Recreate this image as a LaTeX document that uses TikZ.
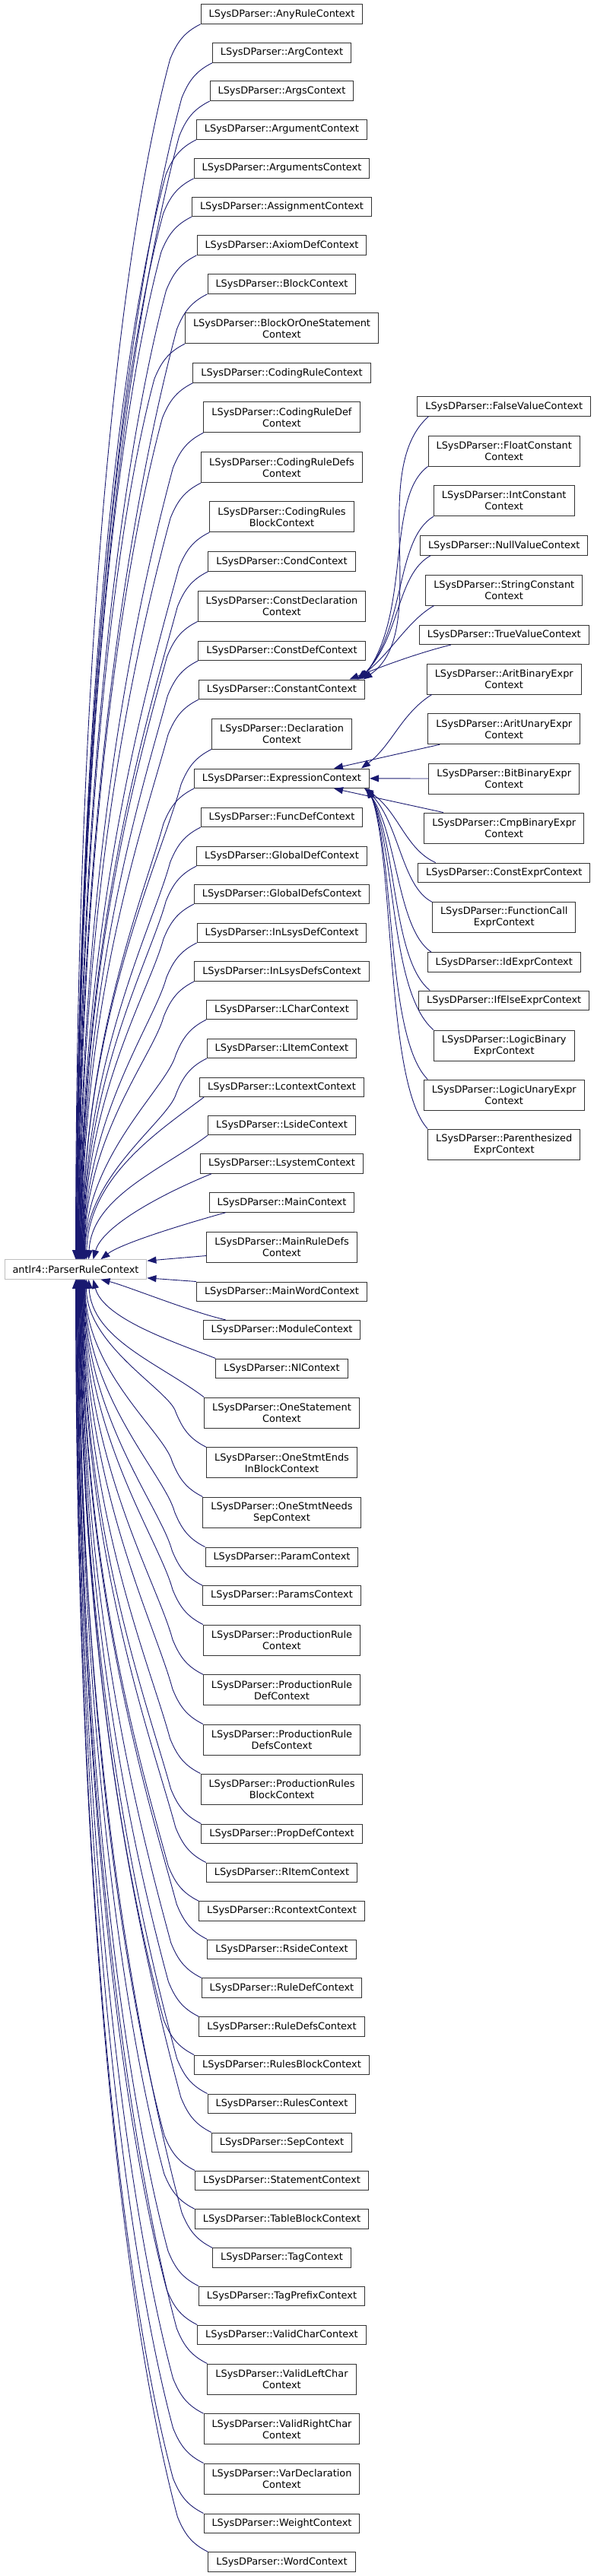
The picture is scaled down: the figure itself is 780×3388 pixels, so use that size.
\documentclass[tikz,border=0pt]{standalone}
\usepackage{fontspec}
\setmainfont{DejaVu Sans}
\usetikzlibrary{arrows.meta}
\definecolor{mblue}{RGB}{25,25,112}
\definecolor{basegray}{RGB}{191,191,191}
\newcommand\lp{LSysDParser::}
\tikzset{
 cls/.style={draw=black!80, line width=1pt, fill=white, font=\fontsize{12.9pt}{15pt}\selectfont, inner xsep=10.5pt, inner ysep=0pt, minimum height=25.6pt, align=center},
 cls2/.style={cls, minimum height=40pt},
 basecls/.style={cls, draw=basegray},
 inh/.style={draw=mblue, line width=0.9pt, -{Triangle[length=12pt,width=9pt]}},
}
% edge from a node above the base, into the base's top
\newcommand\upE[3]{\draw[inh] (#1.south west) .. controls +(-22,11) and +(9,-22) .. ++(-40,46) .. controls +({-0.086*#3},{0.32*#3}) and +(0,{-#3}) .. ([xshift=#2pt]base.north west);}
% edge from a node below the base, into the base's bottom
\newcommand\dnE[3]{\draw[inh] (#1.north west) .. controls +(-22,-11) and +(9,22) .. ++(-40,-46) .. controls +({-0.086*#3},{-0.32*#3}) and +(0,{#3}) .. ([xshift=#2pt]base.south west);}
\begin{document}
\begin{tikzpicture}[x=1pt,y=-1pt]
\useasboundingbox (0,0) rectangle (780,3388);
% base
\node[basecls] (base) at (99.5,1669.5) {antlr4::ParserRuleContext};
% middle column
\node[cls] (n1) at (370.5,18.5) {\lp AnyRuleContext};
\node[cls] (n2) at (370.5,69.5) {\lp ArgContext};
\node[cls] (n3) at (370.5,119.8) {\lp ArgsContext};
\node[cls] (n4) at (370.5,170.5) {\lp ArgumentContext};
\node[cls] (n5) at (370.5,221.5) {\lp ArgumentsContext};
\node[cls] (n6) at (370.5,271.8) {\lp AssignmentContext};
\node[cls] (n7) at (370.5,322.5) {\lp AxiomDefContext};
\node[cls] (n8) at (370.5,373.5) {\lp BlockContext};
\node[cls2] (n9) at (370.5,431.7) {\lp BlockOrOneStatement\\Context};
\node[cls] (n10) at (370.5,490.5) {\lp CodingRuleContext};
\node[cls2] (n11) at (370.5,548.7) {\lp CodingRuleDef\\Context};
\node[cls2] (n12) at (370.5,614.7) {\lp CodingRuleDefs\\Context};
\node[cls2] (n13) at (370.5,679.7) {\lp CodingRules\\BlockContext};
\node[cls] (n14) at (370.5,738.5) {\lp CondContext};
\node[cls2] (n15) at (370.5,797) {\lp ConstDeclaration\\Context};
\node[cls] (n16) at (370.5,855.8) {\lp ConstDefContext};
\node[cls] (n17) at (370.5,906.8) {\lp ConstantContext};
\node[cls2] (n18) at (370.5,965) {\lp Declaration\\Context};
\node[cls] (n19) at (370.5,1023.8) {\lp ExpressionContext};
\node[cls] (n20) at (370.5,1074.8) {\lp FuncDefContext};
\node[cls] (n21) at (370.5,1125.8) {\lp GlobalDefContext};
\node[cls] (n22) at (370.5,1175.8) {\lp GlobalDefsContext};
\node[cls] (n23) at (370.5,1226.8) {\lp InLsysDefContext};
\node[cls] (n24) at (370.5,1277.5) {\lp InLsysDefsContext};
\node[cls] (n25) at (370.5,1327.8) {\lp LCharContext};
\node[cls] (n26) at (370.5,1378.8) {\lp LItemContext};
\node[cls] (n27) at (370.5,1429.8) {\lp LcontextContext};
\node[cls] (n28) at (370.5,1479.8) {\lp LsideContext};
\node[cls] (n29) at (370.5,1530.5) {\lp LsystemContext};
\node[cls] (n30) at (370.5,1581.5) {\lp MainContext};
\node[cls2] (n31) at (370.5,1640) {\lp MainRuleDefs\\Context};
\node[cls] (n32) at (370.5,1698.8) {\lp MainWordContext};
\node[cls] (n33) at (370.5,1749.1) {\lp ModuleContext};
\node[cls] (n34) at (370.5,1799.8) {\lp NlContext};
\node[cls2] (n35) at (370.5,1858) {\lp OneStatement\\Context};
\node[cls2] (n36) at (370.5,1923.7) {\lp OneStmtEnds\\InBlockContext};
\node[cls2] (n37) at (370.5,1989) {\lp OneStmtNeeds\\SepContext};
\node[cls] (n38) at (370.5,2047.8) {\lp ParamContext};
\node[cls] (n39) at (370.5,2098.5) {\lp ParamsContext};
\node[cls2] (n40) at (370.5,2157) {\lp ProductionRule\\Context};
\node[cls2] (n41) at (370.5,2222.7) {\lp ProductionRule\\DefContext};
\node[cls2] (n42) at (370.5,2288) {\lp ProductionRule\\DefsContext};
\node[cls2] (n43) at (370.5,2353) {\lp ProductionRules\\BlockContext};
\node[cls] (n44) at (370.5,2411.8) {\lp PropDefContext};
\node[cls] (n45) at (370.5,2462.8) {\lp RItemContext};
\node[cls] (n46) at (370.5,2513.5) {\lp RcontextContext};
\node[cls] (n47) at (370.5,2563.8) {\lp RsideContext};
\node[cls] (n48) at (370.5,2614.5) {\lp RuleDefContext};
\node[cls] (n49) at (370.5,2665.5) {\lp RuleDefsContext};
\node[cls] (n50) at (370.5,2715.8) {\lp RulesBlockContext};
\node[cls] (n51) at (370.5,2766.8) {\lp RulesContext};
\node[cls] (n52) at (370.5,2817.8) {\lp SepContext};
\node[cls] (n53) at (370.5,2867.8) {\lp StatementContext};
\node[cls] (n54) at (370.5,2918.5) {\lp TableBlockContext};
\node[cls] (n55) at (370.5,2969.5) {\lp TagContext};
\node[cls] (n56) at (370.5,3019.8) {\lp TagPrefixContext};
\node[cls] (n57) at (370.5,3070.8) {\lp ValidCharContext};
\node[cls2] (n58) at (370.5,3129) {\lp ValidLeftChar\\Context};
\node[cls2] (n59) at (370.5,3194.7) {\lp ValidRightChar\\Context};
\node[cls2] (n60) at (370.5,3260) {\lp VarDeclaration\\Context};
\node[cls] (n61) at (370.5,3318.8) {\lp WeightContext};
\node[cls] (n62) at (370.5,3369.5) {\lp WordContext};
% right column
\node[cls] (r1) at (662.75,534.5) {\lp FalseValueContext};
\node[cls2] (r2) at (662.75,593) {\lp FloatConstant\\Context};
\node[cls2] (r3) at (662.75,658.7) {\lp IntConstant\\Context};
\node[cls] (r4) at (662.75,717.5) {\lp NullValueContext};
\node[cls2] (r5) at (662.75,776) {\lp StringConstant\\Context};
\node[cls] (r6) at (662.75,834.8) {\lp TrueValueContext};
\node[cls2] (r7) at (662.75,893) {\lp AritBinaryExpr\\Context};
\node[cls2] (r8) at (662.75,958.7) {\lp AritUnaryExpr\\Context};
\node[cls2] (r9) at (662.75,1024) {\lp BitBinaryExpr\\Context};
\node[cls2] (r10) at (662.75,1089) {\lp CmpBinaryExpr\\Context};
\node[cls] (r11) at (662.75,1147.8) {\lp ConstExprContext};
\node[cls2] (r12) at (662.75,1206.7) {\lp FunctionCall\\ExprContext};
\node[cls] (r13) at (662.75,1265.5) {\lp IdExprContext};
\node[cls] (r14) at (662.75,1315.8) {\lp IfElseExprContext};
\node[cls2] (r15) at (662.75,1375) {\lp LogicBinary\\ExprContext};
\node[cls2] (r16) at (662.75,1440) {\lp LogicUnaryExpr\\Context};
\node[cls2] (r17) at (662.75,1505) {\lp Parenthesized\\ExprContext};

% ---- edges into the base from above
\upE{n1}{94}{790}
\upE{n2}{94.5}{764.5}
\upE{n3}{95}{739}
\upE{n4}{95.5}{714}
\upE{n5}{96}{688.5}
\upE{n6}{96.5}{663}
\upE{n7}{97}{638}
\upE{n8}{97.5}{612.5}
\upE{n9}{98}{579.5}
\upE{n10}{98.5}{554}
\upE{n11}{99}{521}
\upE{n12}{99.5}{488}
\upE{n13}{100}{455.5}
\upE{n14}{100.5}{430}
\upE{n15}{101}{397}
\upE{n16}{101.5}{371}
\upE{n17}{102}{345.5}
\upE{n18}{102.5}{313}
\upE{n19}{103}{287}
\upE{n20}{103.5}{261.5}
\upE{n21}{104}{236}
\upE{n22}{104.5}{211}
\upE{n23}{105}{185.5}
\upE{n24}{105.5}{160.5}
\upE{n25}{106}{135}
\upE{n26}{106.5}{109.5}
\draw[inh] ([xshift=6pt]n27.south west) .. controls +(-60,45) and +(3,-108) .. ([xshift=108pt]base.north west);
\draw[inh] (n28.south west) .. controls +(-60,45) and +(4,-82) .. ([xshift=111pt]base.north west);
\draw[inh] ([xshift=15pt]n29.south west) .. controls +(-50,20) and +(13,-47) .. ([xshift=117pt]base.north west);
\draw[inh] ([xshift=22pt]n30.south west) .. controls +(-40,11) and +(28,-22) .. ([xshift=127pt]base.north west);
\draw[inh] ([yshift=9pt]n31.south west) -- ([yshift=-2pt]base.north east);
% ---- edges into the base from below
\draw[inh] (n32.north west) -- ([yshift=2pt]base.south east);
\draw[inh] ([xshift=30pt]n33.north west) .. controls +(-45,-10) and +(33,8) .. ([xshift=127pt]base.south west);
\draw[inh] (n34.north west) .. controls +(-50,-20) and +(13,52) .. ([xshift=117pt]base.south west);
\draw[inh] (n35.north west) .. controls +(-60,-45) and +(4,78) .. ([xshift=111pt]base.south west);
\dnE{n36}{108}{87.5}
\dnE{n37}{106.5}{120.5}
\dnE{n38}{106}{153.5}
\dnE{n39}{105.5}{178.5}
\dnE{n40}{105}{204.5}
\dnE{n41}{104.5}{237}
\dnE{n42}{104}{270}
\dnE{n43}{103.5}{302.5}
\dnE{n44}{103}{335.5}
\dnE{n45}{102.5}{361}
\dnE{n46}{102}{386}
\dnE{n47}{101.5}{411.5}
\dnE{n48}{101}{436.5}
\dnE{n49}{100.5}{462}
\dnE{n50}{100}{487.5}
\dnE{n51}{99.5}{513}
\dnE{n52}{99}{538.5}
\dnE{n53}{98.5}{563.5}
\dnE{n54}{98}{588.5}
\dnE{n55}{97.5}{614}
\dnE{n56}{97}{639.5}
\dnE{n57}{96.5}{665}
\dnE{n58}{96}{690.5}
\dnE{n59}{95.5}{723}
\dnE{n60}{95}{756}
\dnE{n61}{94.5}{789}
\dnE{n62}{94}{814}
% ---- edges into ConstantContext
\draw[inh] ([xshift=15pt]r1.south west) .. controls +(-82,73) and +(92,-64) .. ([xshift=-2.5pt]n17.north east);
\draw[inh] (r2.south west) .. controls +(-55,40) and +(65,-90) .. ([xshift=-4.5pt]n17.north east);
\draw[inh] (r3.south west) .. controls +(-50,30) and +(60,-70) .. ([xshift=-6.5pt]n17.north east);
\draw[inh] ([xshift=14pt]r4.south west) .. controls +(-45,25) and +(55,-55) .. ([xshift=-8.5pt]n17.north east);
\draw[inh] ([xshift=11.5pt]r5.south west) .. controls +(-35,20) and +(45,-35) .. ([xshift=-10.5pt]n17.north east);
\draw[inh] ([xshift=42pt]r6.south west) .. controls +(-40,10) and +(50,-20) .. ([xshift=-20.5pt]n17.north east);
% ---- edges into ExpressionContext
\draw[inh] ([xshift=7pt]r7.south west) .. controls +(-40,25) and +(40,-30) .. ([xshift=-11pt]n19.north east);
\draw[inh] ([xshift=16pt]r8.south west) -- ([xshift=-47pt]n19.north east);
\draw[inh] (r9.west) -- (n19.east);
\draw[inh] ([xshift=25.5pt]r10.north west) -- ([xshift=-47pt]n19.south east);
\draw[inh] ([xshift=23.5pt]r11.north west) .. controls +(-40,-18) and +(45,30) .. ([xshift=-7pt]n19.south east);
\draw[inh] (r12.north west) .. controls +(-40,-20) and +(45,45) .. ([xshift=-6pt]n19.south east);
\draw[inh] ([xshift=5.5pt]r13.north west) .. controls +(-45,-30) and +(42,60) .. ([xshift=-5pt]n19.south east);
\draw[inh] ([xshift=15pt]r14.north west) .. controls +(-50,-40) and +(40,70) .. ([xshift=-4pt]n19.south east);
\draw[inh] (r15.north west) .. controls +(-58,-50) and +(38,80) .. ([xshift=-3pt]n19.south east);
\draw[inh] ([xshift=5.5pt]r16.north west) .. controls +(-55,-55) and +(36,90) .. ([xshift=-2pt]n19.south east);
\draw[inh] (r17.north west) .. controls +(-55,-60) and +(34,100) .. ([xshift=-1pt]n19.south east);
\end{tikzpicture}
\end{document}
